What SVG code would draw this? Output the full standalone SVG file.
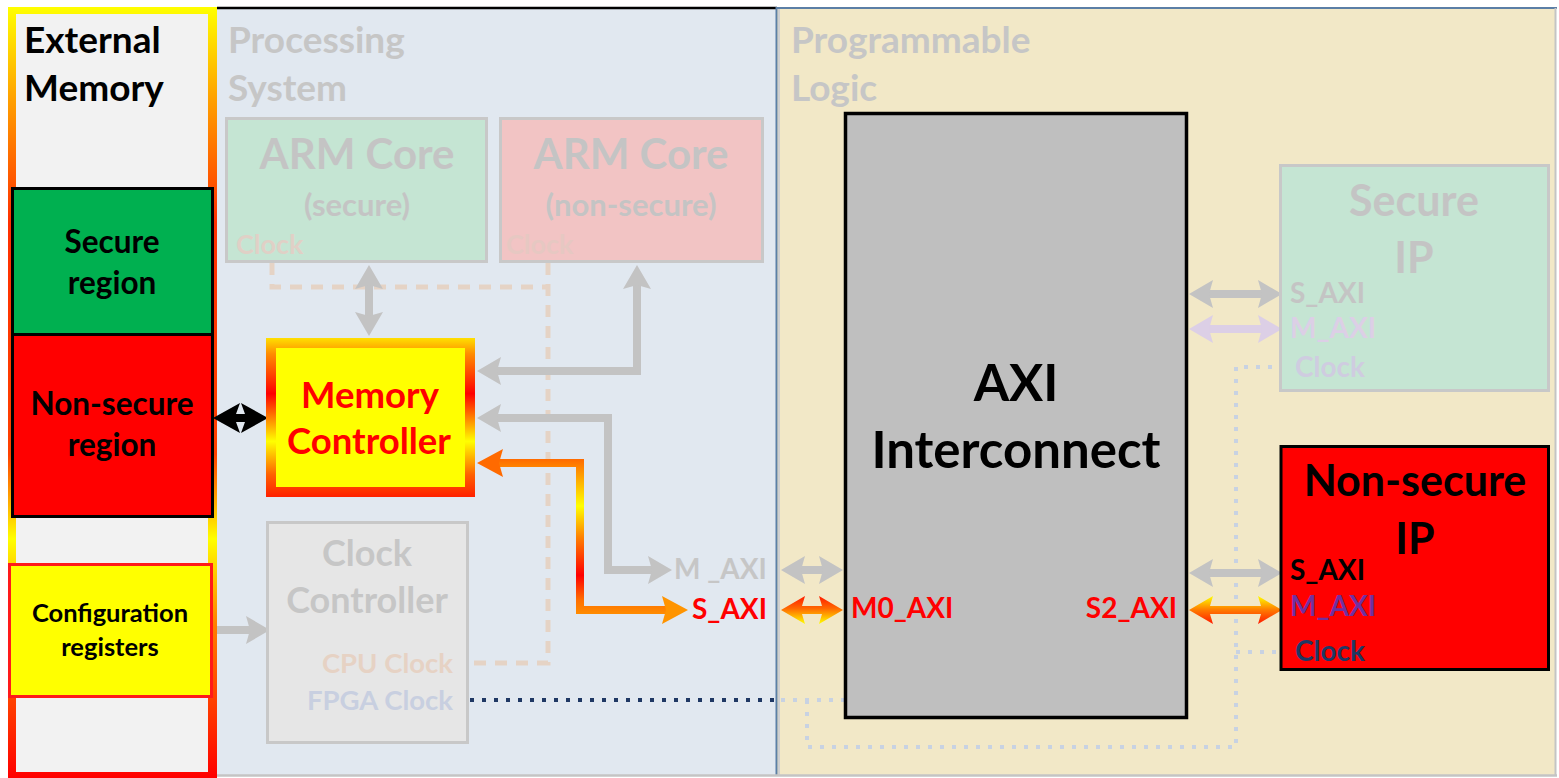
<svg xmlns="http://www.w3.org/2000/svg" width="1559" height="778" viewBox="0 0 1559 778">
  <style>
    text { font-family: Lato, "Open Sans", "DejaVu Sans", sans-serif; font-weight: 700; }
    .title { font-size: 37px; }
    .mid { text-anchor: middle; }
    .end { text-anchor: end; }
    .ghost { fill: #c6c6c6; }
    .port { font-size: 28px; }
    .gray-arrow { fill: none; stroke: #c3c3c3; stroke-width: 8; marker-start: url(#head); marker-end: url(#head); }
    .dash-clk { fill: none; stroke: #e5d3c5; stroke-width: 5; stroke-dasharray: 12 9; }
    .dot-fpga { fill: none; stroke: #1f3864; stroke-width: 4; stroke-dasharray: 4 8; }
    .dot-pl { fill: none; stroke: #c8d2e2; stroke-width: 4; stroke-dasharray: 4 8; }
    .faded-box { stroke: #c8c8c8; stroke-width: 3; }
  </style>
  <defs>
    <marker id="head" viewBox="0 0 12 14" refX="2" refY="7" markerWidth="3" markerHeight="3.5" orient="auto-start-reverse" markerUnits="strokeWidth">
      <path d="M0,0 L12,7 L0,14 L2,7 z" fill="#c3c3c3"/>
    </marker>
    <marker id="head-lilac" viewBox="0 0 12 14" refX="2" refY="7" markerWidth="3" markerHeight="3.5" orient="auto-start-reverse" markerUnits="strokeWidth">
      <path d="M0,0 L12,7 L0,14 L2,7 z" fill="#dccfe6"/>
    </marker>
    <!-- glowing frame of the external memory column -->
    <linearGradient id="memFrame" gradientUnits="userSpaceOnUse" x1="0" y1="7" x2="0" y2="778">
      <stop offset="0" stop-color="#ffff00"/>
      <stop offset="0.12" stop-color="#ffa000"/>
      <stop offset="0.28" stop-color="#ff3000"/>
      <stop offset="0.58" stop-color="#ff4000"/>
      <stop offset="0.69" stop-color="#ffff00"/>
      <stop offset="0.8" stop-color="#ff8000"/>
      <stop offset="1" stop-color="#ff0000"/>
    </linearGradient>
    <linearGradient id="mcFrame" gradientUnits="userSpaceOnUse" x1="0" y1="338" x2="0" y2="497">
      <stop offset="0" stop-color="#ffe000"/>
      <stop offset="0.1" stop-color="#ff8c00"/>
      <stop offset="0.35" stop-color="#ff0000"/>
      <stop offset="0.65" stop-color="#ffff00"/>
      <stop offset="0.86" stop-color="#ff6000"/>
      <stop offset="1" stop-color="#ff2000"/>
    </linearGradient>
    <linearGradient id="secPath" gradientUnits="userSpaceOnUse" x1="0" y1="459" x2="0" y2="616">
      <stop offset="0" stop-color="#ff6a00"/>
      <stop offset="0.3" stop-color="#ffff00"/>
      <stop offset="0.5" stop-color="#ff8000"/>
      <stop offset="0.74" stop-color="#ff0000"/>
      <stop offset="0.9" stop-color="#ff7000"/>
      <stop offset="1" stop-color="#ff9000"/>
    </linearGradient>
    <linearGradient id="redTop" x1="0" y1="0" x2="0" y2="1">
      <stop offset="0" stop-color="#ff1a00"/>
      <stop offset="0.45" stop-color="#ff6a00"/>
      <stop offset="1" stop-color="#ffff00"/>
    </linearGradient>
    <linearGradient id="yellowTop" x1="0" y1="0" x2="0" y2="1">
      <stop offset="0" stop-color="#ffff00"/>
      <stop offset="0.5" stop-color="#ff7a00"/>
      <stop offset="1" stop-color="#ff1a00"/>
    </linearGradient>
  </defs>

  <rect width="1559" height="778" fill="#ffffff"/>

  <!-- domains -->
  <g id="processing-system">
    <rect x="217" y="7" width="560" height="769" fill="#e1e8f0"/>
    <text class="title ghost" x="228" y="53">Processing</text>
    <text class="title ghost" x="228" y="101">System</text>
  </g>
  <g id="programmable-logic">
    <rect x="777" y="7" width="779" height="769" fill="#f2e8c7"/>
    <text class="title ghost" x="791" y="53">Programmable</text>
    <text class="title ghost" x="791" y="101">Logic</text>
  </g>
  <g id="domain-borders" fill="none">
    <line x1="217" y1="8" x2="777" y2="8" stroke="#000000" stroke-width="2.5"/>
    <line x1="777" y1="8" x2="1557" y2="8" stroke="#5b7fa6" stroke-width="2"/>
    <line x1="776.5" y1="7" x2="776.5" y2="776" stroke="#5b7fa6" stroke-width="2"/>
    <line x1="779" y1="9" x2="779" y2="776" stroke="#cfcfcf" stroke-width="2"/>
    <line x1="217" y1="775.5" x2="1557" y2="775.5" stroke="#c4c4c4" stroke-width="2.5"/>
    <line x1="1555.5" y1="8" x2="1555.5" y2="776" stroke="#c4c4c4" stroke-width="2"/>
  </g>

  <g id="external-memory">
    <rect x="8" y="7" width="209" height="771" fill="url(#memFrame)"/>
    <rect x="16" y="14" width="192" height="758" fill="#f2f2f2"/>
    <text class="title" x="24" y="53">External</text>
    <text class="title" x="24" y="101">Memory</text>
  </g>

  <!-- clock and control wiring -->
  <g id="connectors">
    <path class="dash-clk" d="M272,263 V287 H548"/>
    <path class="dash-clk" d="M548,263 V663 H470"/>
    <path class="dot-fpga" d="M470,700 H777"/>
    <path class="dot-pl" d="M781,700 H845"/>
    <path class="dot-pl" d="M807,700 V747 H1236 V367 H1280"/>
    <path class="dot-pl" d="M1236,652 H1280"/>

    <path class="gray-arrow" d="M369,285 V316"/>
    <path class="gray-arrow" d="M637,285 V371 H497"/>
    <path class="gray-arrow" d="M497,418 H608 V570 H652"/>
    <path class="gray-arrow" d="M801,570 H823"/>
    <path class="gray-arrow" d="M1209,294 H1262"/>
    <path class="gray-arrow" d="M1209,573 H1262"/>
    <path class="gray-arrow" d="M1209,329 H1262" style="stroke:#dccfe6; marker-start:url(#head-lilac); marker-end:url(#head-lilac)"/>
    <path d="M217,630 H250" fill="none" stroke="#c3c3c3" stroke-width="8" marker-end="url(#head)"/>

    <!-- memory-side link -->
    <polygon points="213,418 240,403 236,414 245,414 241,403 268,418 241,433 245,422 236,422 240,433" fill="#000000"/>

    <!-- highlighted non-secure access path -->
    <path d="M497,463 H580 V610 H668" fill="none" stroke="url(#secPath)" stroke-width="8"/>
    <polygon points="477,463 503,449 499,463 503,477" fill="#ff6a00"/>
    <polygon points="688,610 662,596 666,610 662,624" fill="#ff9400"/>
    <polygon points="781,610 805,596 802,606 822,606 819,596 843,610 819,624 822,614 802,614 805,624" fill="url(#redTop)"/>
    <polygon points="1189,610 1213,596 1210,606 1261,606 1258,596 1282,610 1258,624 1261,614 1210,614 1213,624" fill="url(#yellowTop)"/>
  </g>

  <g id="secure-region">
    <rect x="12.5" y="188.5" width="200" height="146" fill="#00b050" stroke="#000000" stroke-width="3"/>
    <text class="mid" x="112" y="253" font-size="31.5">Secure</text>
    <text class="mid" x="112" y="294" font-size="31.5">region</text>
  </g>
  <g id="non-secure-region">
    <rect x="12.5" y="334.5" width="200" height="182" fill="#ff0000" stroke="#000000" stroke-width="3"/>
    <text class="mid" x="112" y="415" font-size="31.5">Non-secure</text>
    <text class="mid" x="112" y="456" font-size="31.5">region</text>
  </g>
  <g id="configuration-registers">
    <rect x="9.5" y="564.5" width="202" height="132" fill="#ffff00" stroke="#ff1a1a" stroke-width="3"/>
    <text class="mid" x="110" y="622" font-size="25.5">Configuration</text>
    <text class="mid" x="110" y="656" font-size="25.5">registers</text>
  </g>

  <g id="arm-core-secure">
    <rect class="faded-box" x="226.5" y="118.5" width="260" height="143" fill="#c5e5d3"/>
    <text class="mid" x="357" y="169" font-size="42" fill="#c4c4c4">ARM Core</text>
    <text class="mid" x="357" y="216" font-size="31" fill="#c4c4c4">(secure)</text>
    <text x="236" y="254" font-size="27" fill="#e0d0c6">Clock</text>
  </g>
  <g id="arm-core-non-secure">
    <rect class="faded-box" x="500.5" y="118.5" width="262" height="143" fill="#f2c4c4"/>
    <text class="mid" x="631" y="169" font-size="42" fill="#c4c4c4">ARM Core</text>
    <text class="mid" x="631" y="216" font-size="31" fill="#c4c4c4">(non-secure)</text>
    <text x="506" y="254" font-size="27" fill="#e6c8c2">Clock</text>
  </g>

  <g id="memory-controller">
    <rect x="266" y="338" width="209" height="159" fill="url(#mcFrame)"/>
    <rect x="276" y="348" width="189" height="139" fill="#ffff00"/>
    <text class="mid" x="370" y="408" font-size="36.5" fill="#ff0000">Memory</text>
    <text class="mid" x="369" y="454" font-size="36.5" fill="#ff0000">Controller</text>
  </g>

  <g id="clock-controller">
    <rect class="faded-box" x="267.5" y="522.5" width="200" height="220" fill="#e6e6e6"/>
    <text class="mid ghost" x="367" y="566" font-size="36">Clock</text>
    <text class="mid ghost" x="367" y="613" font-size="36">Controller</text>
    <text class="end" x="453" y="673" font-size="27.5" fill="#e6d2c4">CPU Clock</text>
    <text class="end" x="453" y="710" font-size="27.5" fill="#c8cfe0">FPGA Clock</text>
  </g>

  <g id="ps-ports">
    <text class="port ghost" x="674" y="579">M _AXI</text>
    <text class="port" x="692" y="619" fill="#ff0000">S_AXI</text>
  </g>

  <g id="axi-interconnect">
    <rect x="845.5" y="113.5" width="341" height="604" fill="#bfbfbf" stroke="#000000" stroke-width="3.5"/>
    <text class="mid" x="1016" y="401" font-size="51">AXI</text>
    <text class="mid" x="1016" y="468" font-size="51">Interconnect</text>
    <text class="port" x="851" y="618" fill="#ff0000">M0_AXI</text>
    <text class="port end" x="1177" y="618" fill="#ff0000">S2_AXI</text>
  </g>

  <g id="secure-ip">
    <rect class="faded-box" x="1280.5" y="165.5" width="268" height="225" fill="#c5e5d3"/>
    <text class="mid" x="1414" y="216" font-size="43" fill="#c4c4c4">Secure</text>
    <text class="mid" x="1414" y="273" font-size="43" fill="#c4c4c4">IP</text>
    <text class="port" x="1290" y="303" fill="#c4c4c4">S_AXI</text>
    <text class="port" x="1290" y="338" fill="#dccfe6">M_AXI</text>
    <text class="port" x="1295" y="377" font-size="26" fill="#cfcce0">Clock</text>
  </g>

  <g id="non-secure-ip">
    <rect x="1281" y="446.5" width="267.5" height="223" fill="#ff0000" stroke="#000000" stroke-width="3"/>
    <text class="mid" x="1415" y="496" font-size="43">Non-secure</text>
    <text class="mid" x="1415" y="554" font-size="43">IP</text>
    <text class="port" x="1290" y="580">S_AXI</text>
    <text class="port" x="1290" y="616" fill="#7030a0">M_AXI</text>
    <text class="port" x="1295" y="661" font-size="26" fill="#1f3864">Clock</text>
  </g>
</svg>
